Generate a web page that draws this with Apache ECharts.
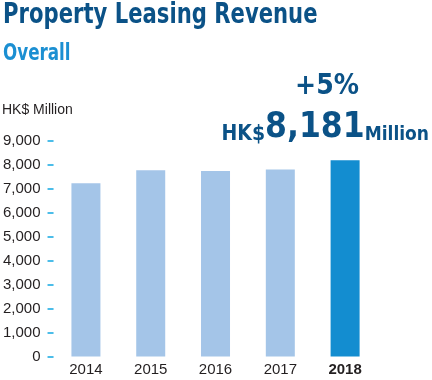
<!DOCTYPE html>
<html><head><meta charset="utf-8">
<script src="https://cdn.jsdelivr.net/npm/echarts@6/dist/echarts.min.js"></script>
<style>html,body{margin:0;padding:0;background:#fff}#c{width:432px;height:380px}</style>
</head><body><div id="c"></div>
<script>
const categories = ['2014','2015','2016','2017','2018'];
const revenue = [7220, 7760, 7730, 7790, 8181];
const yTicks = [0,1000,2000,3000,4000,5000,6000,7000,8000,9000];
const highlightYear = '2018';

const dark = '#0b5287';
const narrow = '"DejaVu Sans Condensed",Arial,sans-serif';
const plain = '"Liberation Sans", Arial, sans-serif';
const chart = echarts.init(document.getElementById('c'), null, {renderer:'canvas'});
chart.setOption({
  animation:false,
  grid:{left:53,right:54.5,top:140.5,bottom:23.5},
  xAxis:{type:'category',data:categories,
    axisLine:{show:false},axisTick:{show:false},
    axisLabel:{interval:0,hideOverlap:false,margin:6,fontSize:15,color:'#231f20',fontFamily:plain,
      formatter:v=>v===highlightYear?'{b|'+v+'}':v,
      rich:{b:{fontWeight:'bold',fontSize:15,color:'#231f20',fontFamily:plain}}}},
  yAxis:{type:'value',min:yTicks[0],max:yTicks[yTicks.length-1],interval:1000,
    splitLine:{show:false},axisLine:{show:false},
    axisTick:{show:true,length:6,lineStyle:{color:'#4cbde9',width:2}},
    axisLabel:{margin:13,fontSize:15,color:'#231f20',fontFamily:plain,
      formatter:v=>v.toLocaleString('en-US')}},
  series:[{type:'bar',barWidth:29,
    data:revenue.map((v,i)=>({value:v,itemStyle:{color:categories[i]===highlightYear?'#138dd0':'#a4c5e8'}}))}],
  graphic:[
    {type:'text',x:3,y:2,scaleX:0.84,style:{text:'Property Leasing Revenue',font:'bold 28px '+narrow,fill:dark}},
    {type:'text',x:3,y:43,scaleX:0.81,style:{text:'Overall',font:'bold 23px '+narrow,fill:'#1b8fd2'}},
    {type:'text',x:2,y:103,style:{text:'HK$ Million',font:'14px '+plain,fill:'#231f20'}},
    {type:'text',x:327,y:101,style:{text:'+5%',font:'bold 28px '+narrow,fill:dark,align:'center',verticalAlign:'bottom'}},
    {type:'text',x:429,y:145,style:{text:'{a|HK$}{b|8,181}{c|Million}',align:'right',verticalAlign:'bottom',
      rich:{a:{font:'bold 21px '+narrow,fill:dark,verticalAlign:'bottom'},
            b:{font:'bold 35px '+narrow,fill:dark,verticalAlign:'bottom'},
            c:{font:'bold 19px '+narrow,fill:dark,verticalAlign:'bottom'}}}}
  ]
});
</script></body></html>
